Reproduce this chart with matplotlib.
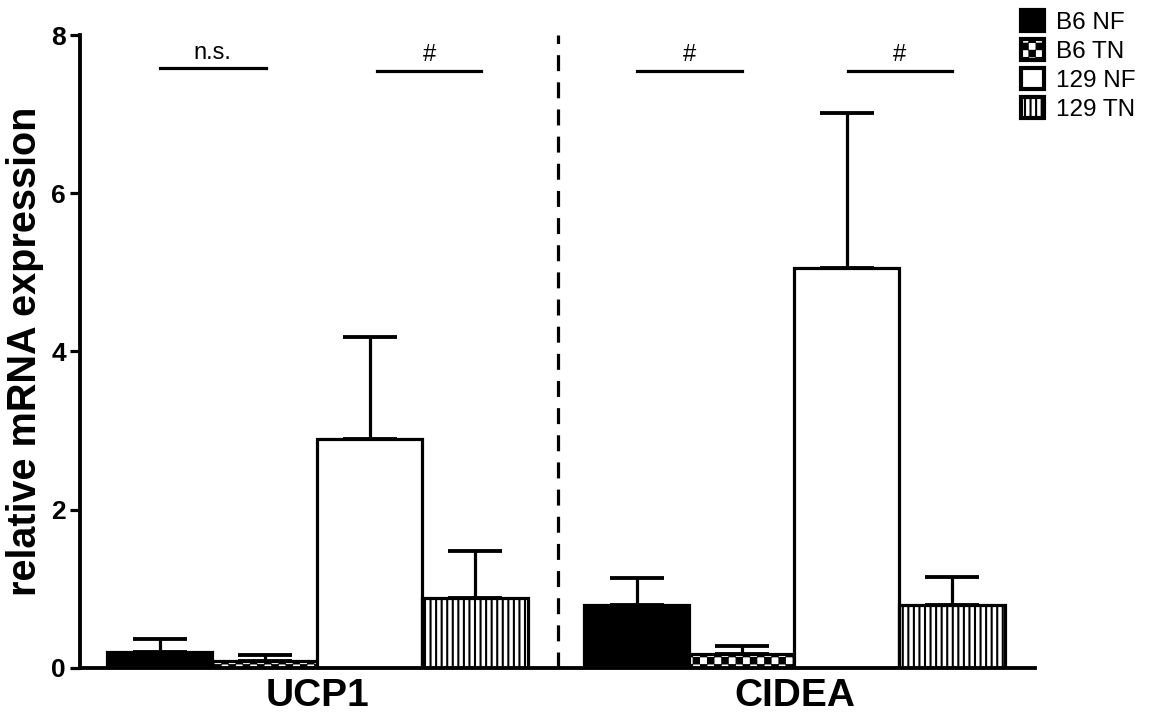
import matplotlib.pyplot as plt
import matplotlib.hatch as mhatch
import numpy as np
from matplotlib.patches import Patch
from matplotlib.path import Path

plt.rcParams['font.family'] = ['Liberation Sans', 'DejaVu Sans']
plt.rcParams['hatch.linewidth'] = 1.5


# checkerboard fill for the B6 TN bars ('c' in the hatch string)
class CheckerHatch(mhatch.HatchPatternBase):
    def __init__(self, hatch, density):
        self.n = 14 if 'c' in hatch else 0
        self.num_vertices = (self.n * self.n // 2) * 5

    def set_vertices_and_codes(self, vertices, codes):
        step = 1.0 / self.n
        pad = step * 0.12
        k = 0
        for i in range(self.n):
            for j in range(self.n):
                if (i + j) % 2:
                    continue
                x0, y0 = i * step + pad, j * step + pad
                x1, y1 = x0 + step - 2 * pad, y0 + step - 2 * pad
                vertices[k:k + 5] = [(x0, y0), (x1, y0), (x1, y1), (x0, y1), (x0, y0)]
                codes[k:k + 5] = [Path.MOVETO, Path.LINETO, Path.LINETO,
                                  Path.LINETO, Path.CLOSEPOLY]
                k += 5


mhatch._hatch_types.append(CheckerHatch)

# data
genes = ["UCP1", "CIDEA"]
groups = ["B6 NF", "B6 TN", "129 NF", "129 TN"]
means_ucp1 = [0.20, 0.08, 2.89, 0.88]
sem_ucp1 = [0.17, 0.08, 1.29, 0.60]
means_cidea = [0.79, 0.17, 5.05, 0.79]
sem_cidea = [0.35, 0.11, 1.97, 0.36]
sig_labels = ["n.s.", "#", "#", "#"]
sig_x = [(0.0, 1.01), (2.07, 3.06), (4.54, 5.54), (6.55, 7.54)]
sig_y = [7.58, 7.55, 7.55, 7.55]

colors = ["black", "white", "white", "white"]
hatches = [None, "c", None, "|||"]

fig = plt.figure(figsize=(11.59, 7.15), dpi=100)
ax = fig.add_axes([0.069, 0.066, 0.824, 0.885])

group_start = [0.0, 4.54]
lw = 2.3
for g, (m, s) in enumerate([(means_ucp1, sem_ucp1), (means_cidea, sem_cidea)]):
    xs = group_start[g] + np.arange(4)
    for i in range(4):
        ax.bar(xs[i], m[i], width=1.0, color=colors[i], edgecolor="black",
               hatch=hatches[i], linewidth=lw, zorder=2)
        ax.errorbar(xs[i], m[i], yerr=[[0], [s[i]]], fmt="none", ecolor="black",
                    elinewidth=lw, capsize=19.5, capthick=lw * 1.2, zorder=1)

# significance bars
for k in range(4):
    x0, x1 = sig_x[k]
    ax.plot([x0, x1], [sig_y[k], sig_y[k]], color="black", lw=lw)
    ax.text((x0 + x1) / 2, sig_y[k] + 0.06, sig_labels[k],
            ha="center", va="bottom", fontsize=17)

ax.axvline(3.79, color="black", lw=lw, ls=(0, (5, 3.5)))

ax.set_xlim(-0.76, 8.33)
ax.set_ylim(0, 8)
ax.set_yticks([0, 2, 4, 6, 8])
ax.set_yticklabels(["0", "2", "4", "6", "8"], fontsize=19, fontweight="bold")
ax.set_xticks([1.5, group_start[1] + 1.5])
ax.set_xticklabels(genes, fontsize=28, fontweight="bold")
ax.tick_params(axis="x", length=0, pad=7)
ax.tick_params(axis="y", length=7, width=lw, pad=3)
ax.set_ylabel("relative mRNA expression", fontsize=28.5, fontweight="bold", labelpad=5)

for sp in ["top", "right"]:
    ax.spines[sp].set_visible(False)
for sp in ["left", "bottom"]:
    ax.spines[sp].set_linewidth(lw * 1.2)

handles = [Patch(facecolor=colors[i], edgecolor="black", hatch=hatches[i], linewidth=lw * 1.3)
           for i in range(4)]
fig.legend(handles, groups, loc="upper left", bbox_to_anchor=(0.866, 1.01),
           frameon=False, fontsize=17.5, handlelength=0.95, handleheight=0.95,
           handletextpad=0.5, labelspacing=0.22, borderpad=0.2)

fig.savefig("out.png", dpi=100)
